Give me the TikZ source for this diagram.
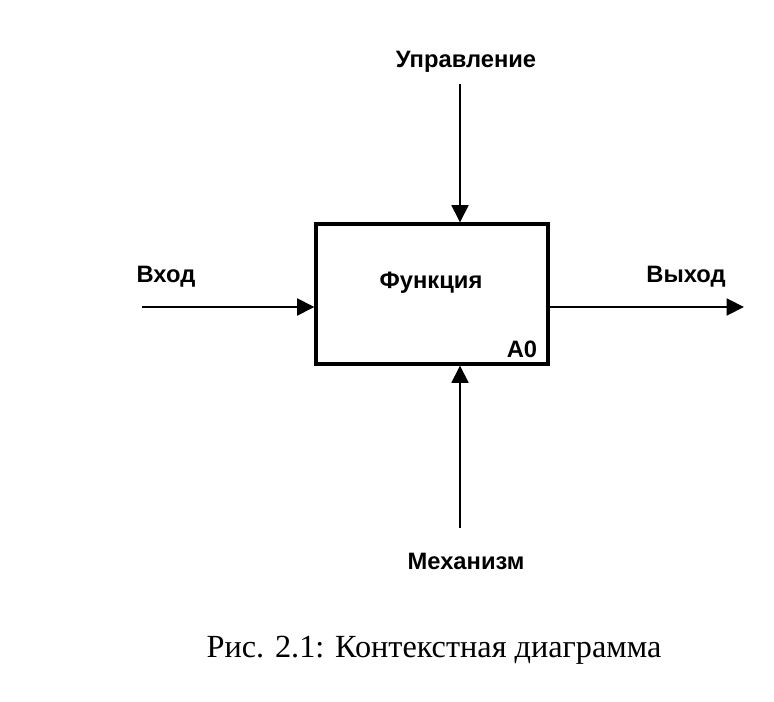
\documentclass[tikz,border=0pt]{standalone}
\usepackage{fontspec}
\setmainfont{Liberation Serif}
\newfontfamily\arialfont{Liberation Sans}
\usetikzlibrary{arrows.meta}

\tikzset{
	lbl/.style={font=\arialfont\bfseries\fontsize{17.8}{20}\selectfont, anchor=base, inner sep=0pt},
	arr/.style={line width=2.2pt, -{Triangle[length=13pt,width=12.5pt]}},
	funcbox/.style={draw, line width=2.3pt, minimum width=174pt, minimum height=105pt, inner sep=0pt}
}

\begin{document}
\begin{tikzpicture}[x=0.75pt,y=-0.75pt]
	\useasboundingbox[fill=white] (0,0) rectangle (774,702);
	
	% box A0
	\node[funcbox] (fn) at (432,294) {};
	\node[lbl] (fname) at (431,288) {Функция};
	\node[lbl] (code) at (522,357) {A0};
	
	% labels
	\node[lbl] (ctrl) at (466,68) {Управление};
	\node[lbl] (in) at (166,282) {Вход};
	\node[lbl] (out) at (686,282) {Выход};
	\node[lbl] (mech) at (466,569) {Механизм};
	
	% free ends
	\coordinate (ctrlend) at (460,84);
	\coordinate (inend) at (142,307);
	\coordinate (outend) at (744,307);
	\coordinate (mechend) at (460,528);
	
	\draw[arr] (ctrlend) -- (ctrlend |- fn.north);
	\draw[arr] (mechend) -- (mechend |- fn.south);
	\draw[arr] (inend) -- (inend -| fn.west);
	\draw[arr] (inend -| fn.east) -- (outend);
	
	% caption
	\node[font=\fontsize{24.2}{28}\selectfont, anchor=base, inner sep=0pt] (cap) at (434,657) {Рис. 2.1: Контекстная диаграмма};
\end{tikzpicture}
\end{document}
